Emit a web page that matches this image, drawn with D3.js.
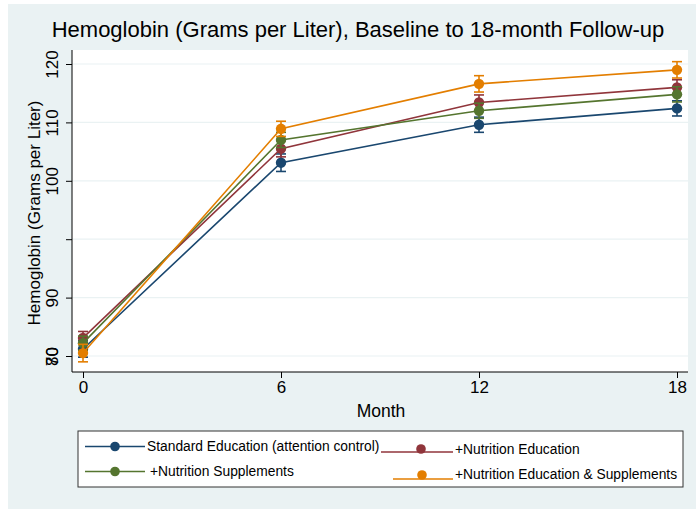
<!DOCTYPE html>
<html><head><meta charset="utf-8">
<script src="https://cdn.jsdelivr.net/npm/d3@7"></script>
<style>body{margin:0;background:#fff}svg{display:block;font-family:"Liberation Sans",Arial,sans-serif}</style>
</head><body><svg id="c" width="696" height="510"></svg>
<script>
const months = [0, 6, 12, 18];
const seriesNames = ["Standard Education (attention control)", "+Nutrition Education", "+Nutrition Supplements", "+Nutrition Education & Supplements"];
const seriesColors = ["#1a476f", "#90353b", "#55752f", "#e37e00"];
const standardEd = [71.2, 103.1, 109.6, 112.4];
const nutritionEd = [73.1, 105.5, 113.4, 116.0];
const nutritionSupp = [72.2, 107.0, 112.0, 114.8];
const nutritionEdSupp = [70.5, 108.9, 116.6, 119.0];
const standardEdErr = [1.4, 1.5, 1.3, 1.3];
const nutritionEdErr = [1.1, 1.4, 1.3, 1.3];
const nutritionSuppErr = [1.2, 1.3, 1.3, 1.3];
const nutritionEdSuppErr = [1.5, 1.3, 1.4, 1.4];
const yTickValues = [70, 70, 80, 90, 100, 110, 120];
const yTickLabels = ["70", "80", "90", "", "100", "110", "120"];
const xTickValues = [0, 6, 12, 18];

const values = [standardEd, nutritionEd, nutritionSupp, nutritionEdSupp];
const errs = [standardEdErr, nutritionEdErr, nutritionSuppErr, nutritionEdSuppErr];

const svg = d3.select("#c");
const W = 696, H = 510;
const L = 72, R = 688, T = 50, B = 372;

svg.append("rect").attr("x", 8).attr("y", 4).attr("width", W - 8).attr("height", H - 5).attr("fill", "#eaf2f3");
svg.append("rect").attr("x", L).attr("y", T).attr("width", R - L).attr("height", B - T).attr("fill", "#ffffff");

const x = d3.scaleLinear().domain([0, 18]).range([83, 677]);
const y = d3.scaleLinear().domain([70, 120]).range([356, 64]);

// gridlines
svg.append("g").selectAll("line").data([70, 80, 90, 100, 110, 120]).join("line")
  .attr("x1", L).attr("x2", R).attr("y1", d => y(d)).attr("y2", d => y(d))
  .attr("stroke", "#eaf2f3").attr("stroke-width", 1.2);

// y axis
const yAxis = d3.axisLeft(y).tickValues(yTickValues).tickSize(6).tickSizeOuter(0)
  .tickFormat((d, i) => yTickLabels[i]);
const gy = svg.append("g").attr("transform", `translate(${L},0)`).call(yAxis);
gy.select(".domain").attr("stroke", "#000").attr("d", `M0,${T}V${B}`);
gy.selectAll(".tick line").attr("stroke", "#000");
gy.selectAll(".tick text").attr("font-size", 17).attr("fill", "#000")
  .attr("transform", "rotate(-90)").attr("x", 0).attr("dx", 0)
  .attr("y", -14).attr("dy", 0).attr("text-anchor", "middle");

// x axis
const xAxis = d3.axisBottom(x).tickValues(xTickValues).tickSize(6).tickSizeOuter(0).tickFormat(d3.format("d"));
const gx = svg.append("g").attr("transform", `translate(0,${B})`).call(xAxis);
gx.select(".domain").attr("stroke", "#000").attr("d", `M${L},0H${R}`);
gx.selectAll(".tick line").attr("stroke", "#000");
gx.selectAll(".tick text").attr("font-size", 17).attr("fill", "#000").attr("y", 9).attr("dy", "0.71em");

// titles
svg.append("text").attr("x", 358).attr("y", 37).attr("text-anchor", "middle")
  .attr("font-size", 22).attr("fill", "#000").text("Hemoglobin (Grams per Liter), Baseline to 18-month Follow-up");
svg.append("text").attr("x", 381).attr("y", 417).attr("text-anchor", "middle")
  .attr("font-size", 17.5).attr("fill", "#000").text("Month");
svg.append("text").attr("transform", `translate(40,${(T + B) / 2 + 2}) rotate(-90)`).attr("text-anchor", "middle")
  .attr("font-size", 17).attr("fill", "#000").text("Hemoglobin (Grams per Liter)");

// series
const line = d3.line().x((d, i) => x(months[i])).y(d => y(d));
values.forEach((vals, s) => {
  const col = seriesColors[s];
  const g = svg.append("g");
  g.append("path").datum(vals).attr("d", line).attr("fill", "none").attr("stroke", col).attr("stroke-width", 1.6);
  vals.forEach((v, i) => {
    const e = errs[s][i], cx = x(months[i]);
    g.append("line").attr("x1", cx).attr("x2", cx).attr("y1", y(v - e)).attr("y2", y(v + e)).attr("stroke", col).attr("stroke-width", 1.6);
    [v - e, v + e].forEach(c => g.append("line").attr("x1", cx - 5).attr("x2", cx + 5).attr("y1", y(c)).attr("y2", y(c)).attr("stroke", col).attr("stroke-width", 1.6));
  });
  g.selectAll("circle").data(vals).join("circle")
    .attr("cx", (d, i) => x(months[i])).attr("cy", d => y(d)).attr("r", 5.2).attr("fill", col);
});

// legend
svg.append("rect").attr("x", 78).attr("y", 431).attr("width", 605).attr("height", 56)
  .attr("fill", "#fff").attr("stroke", "#333").attr("stroke-width", 1);
const legItems = [
  { x1: 85, x2: 145, mx: 115, my: 446.5, ly: 446.5, tx: 147, ty: 446 },
  { x1: 381, x2: 453, mx: 421, my: 449, ly: 452, tx: 455, ty: 449 },
  { x1: 85, x2: 145, mx: 115, my: 471.5, ly: 471.5, tx: 150, ty: 471 },
  { x1: 393, x2: 453, mx: 422, my: 475, ly: 479, tx: 455, ty: 474 }
];
legItems.forEach((it, s) => {
  const col = seriesColors[s];
  svg.append("line").attr("x1", it.x1).attr("x2", it.x2).attr("y1", it.ly).attr("y2", it.ly).attr("stroke", col).attr("stroke-width", 1.3);
  svg.append("circle").attr("cx", it.mx).attr("cy", it.my).attr("r", 4.8).attr("fill", col);
  svg.append("text").attr("x", it.tx).attr("y", it.ty).attr("dy", "0.35em").attr("font-size", 13.8).attr("fill", "#000").text(seriesNames[s]);
});
</script></body></html>
